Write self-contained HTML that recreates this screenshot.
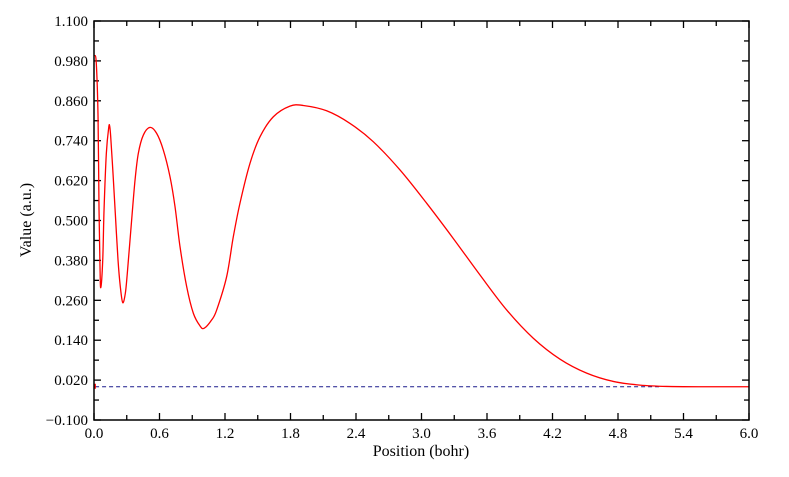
<!DOCTYPE html>
<html><head><meta charset="utf-8"><style>
html,body{margin:0;padding:0;background:#fff;}
svg{display:block;font-family:"Liberation Serif",serif;}
</style></head><body>
<svg id="chart" width="789" height="477" viewBox="0 0 789 477" xmlns="http://www.w3.org/2000/svg">
<rect width="789" height="477" fill="#fff"/>
<g id="ticks"></g>
<g id="labels"></g>
<line id="zero" stroke="#1a1a8c" stroke-width="1" stroke-dasharray="4,3"/>
<path id="curve" fill="none" stroke="#ff0000" stroke-width="1.3"/>
<line id="blip" stroke="#ff0000" stroke-width="2"/>
<rect x="94" y="21" width="655" height="399" fill="none" stroke="#000" stroke-width="1.5"/>
<text x="421" y="456" text-anchor="middle" font-size="16">Position (bohr)</text>
<text x="0" y="0" transform="translate(31,220) rotate(-90)" text-anchor="middle" font-size="16">Value (a.u.)</text>
</svg>
<script>
const xs = [0.006,0.021,0.037,0.046,0.055,0.062,0.080,0.092,0.113,0.135,0.144,0.153,0.174,0.195,0.220,0.241,0.263,0.287,0.305,0.345,0.376,0.406,0.452,0.513,0.574,0.635,0.696,0.742,0.788,0.849,0.910,0.971,1.010,1.078,1.124,1.215,1.276,1.337,1.429,1.521,1.643,1.795,1.917,2.131,2.345,2.558,2.803,3.047,3.291,3.536,3.780,4.024,4.269,4.513,4.757,5.001,5.246,5.6,6.0];
const values = [0.998,0.973,0.812,0.532,0.361,0.298,0.381,0.532,0.702,0.780,0.783,0.752,0.642,0.522,0.381,0.301,0.253,0.281,0.341,0.502,0.622,0.702,0.757,0.780,0.762,0.712,0.632,0.542,0.421,0.301,0.221,0.183,0.176,0.201,0.231,0.331,0.451,0.552,0.672,0.752,0.812,0.844,0.846,0.830,0.792,0.737,0.652,0.552,0.446,0.336,0.231,0.146,0.083,0.041,0.016,0.005,0.001,0.0,0.0];
const xTickLabels = ["0.0","0.6","1.2","1.8","2.4","3.0","3.6","4.2","4.8","5.4","6.0"];
const yTickLabels = ["\u22120.100","0.020","0.140","0.260","0.380","0.500","0.620","0.740","0.860","0.980","1.100"];
const X0=94,X1=749,Y0=420,Y1=21,xmin=0,xmax=6,ymin=-0.1,ymax=1.1;
const sx=v=>X0+(v-xmin)/(xmax-xmin)*(X1-X0);
const sy=v=>Y0-(v-ymin)/(ymax-ymin)*(Y0-Y1);
const NS="http://www.w3.org/2000/svg";
const tg=document.getElementById('ticks'), lg=document.getElementById('labels');
function ln(x1,y1,x2,y2,name){const l=document.createElementNS(NS,'line');
l.setAttribute('x1',x1);l.setAttribute('y1',y1);l.setAttribute('x2',x2);l.setAttribute('y2',y2);
l.setAttribute('stroke','#000');l.setAttribute('stroke-width','1.3');


tg.appendChild(l);}
function tx(x,y,s,anchor,name){const t=document.createElementNS(NS,'text');
t.setAttribute('x',x);t.setAttribute('y',y);t.setAttribute('text-anchor',anchor);t.setAttribute('font-size','15');t.textContent=s;


lg.appendChild(t);}
for(let i=0;i<=20;i++){const v=i*0.3,x=sx(v),L=(i%2==0)?7:5;
ln(x,Y0,x,Y0-L,'x-tick');ln(x,Y1,x,Y1+L,'x-tick');}
xTickLabels.forEach(s=>{tx(sx(parseFloat(s)),438,s,'middle','x-tick-label');});
for(let i=0;i<=20;i++){const v=-0.1+i*0.06,y=sy(v),L=(i%2==0)?7:5;
ln(X0,y,X0+L,y,'y-tick');ln(X1,y,X1-L,y,'y-tick');}
yTickLabels.forEach(s=>{tx(88,sy(parseFloat(s.replace('\u2212','-')))+5,s,'end','y-tick-label');});
const z=document.getElementById('zero');
z.setAttribute('x1',sx(0.01));z.setAttribute('x2',sx(5.2));z.setAttribute('y1',sy(0));z.setAttribute('y2',sy(0));
const P=xs.map((x,i)=>[sx(x),sy(values[i])]);
let d='M'+P[0][0].toFixed(2)+','+P[0][1].toFixed(2);
for(let i=0;i<P.length-1;i++){const p0=P[Math.max(0,i-1)],p1=P[i],p2=P[i+1],p3=P[Math.min(P.length-1,i+2)];
const c1x=p1[0]+(p2[0]-p0[0])/6,c1y=p1[1]+(p2[1]-p0[1])/6,c2x=p2[0]-(p3[0]-p1[0])/6,c2y=p2[1]-(p3[1]-p1[1])/6;
d+=' C'+c1x.toFixed(2)+','+c1y.toFixed(2)+' '+c2x.toFixed(2)+','+c2y.toFixed(2)+' '+p2[0].toFixed(2)+','+p2[1].toFixed(2);}
document.getElementById('curve').setAttribute('d',d);
const b=document.getElementById('blip');
b.setAttribute('x1',sx(0.008));b.setAttribute('x2',sx(0.008));b.setAttribute('y1',sy(0)-3);b.setAttribute('y2',sy(0)+2);
</script>
</body></html>
